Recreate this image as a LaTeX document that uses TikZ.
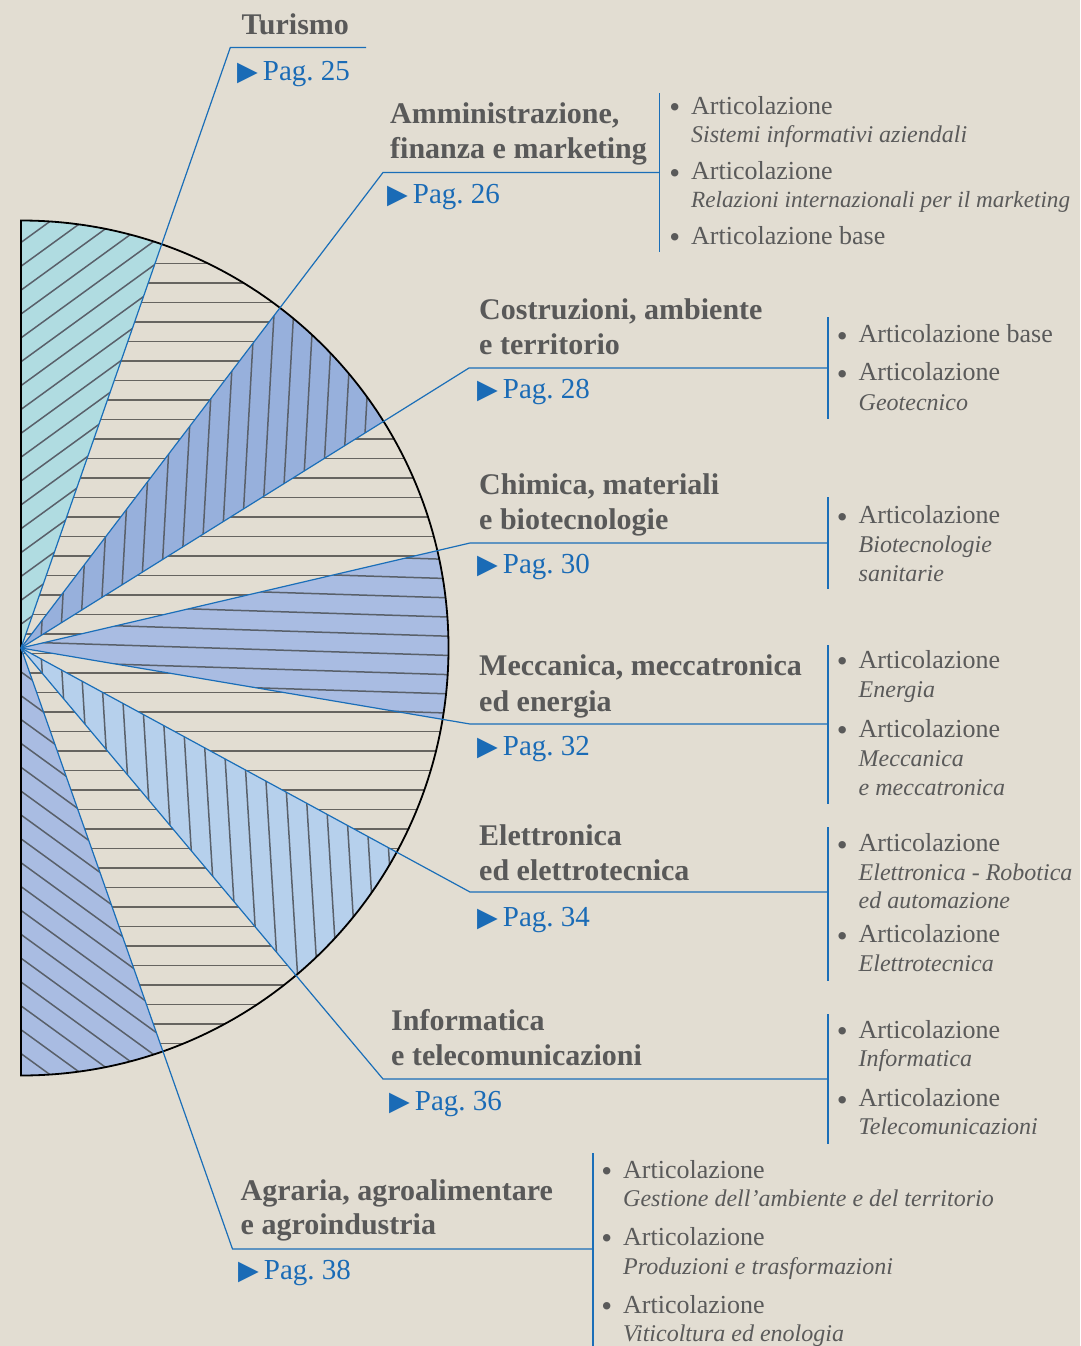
\documentclass[tikz,border=0pt]{standalone}
\usepackage{fontspec}
\setmainfont{Liberation Serif}
\newfontfamily\symfont{DejaVu Sans}
\frenchspacing
\definecolor{bgc}{HTML}{E2DDD2}
\definecolor{cyanF}{HTML}{B0DCE1}
\definecolor{blueA}{HTML}{97B0DC}
\definecolor{blueB}{HTML}{A9BCE2}
\definecolor{blueC}{HTML}{B6D0EC}
\definecolor{colhb}{HTML}{666460}
\definecolor{colhc}{HTML}{59606A}
\definecolor{lineblue}{HTML}{1A6EB8}
\definecolor{headgray}{HTML}{595959}
\definecolor{listgray}{HTML}{5A5A5A}
\definecolor{pagblue}{HTML}{1A6BB6}
\newcommand{\mybul}{\llap{\raisebox{-3.5pt}{\fontsize{31}{31}\selectfont\textbullet}\hspace{11pt}}}
\newcommand{\mytri}{{\symfont\fontsize{27}{27}\selectfont ▶}\hspace{5pt}}
\begin{document}
\begin{tikzpicture}[x=1pt,y=1pt,
  hatchb/.style={draw=colhb, line width=1.5pt},
  hatchc/.style={draw=colhc, line width=1.5pt},
  rim/.style={draw=black, line width=1.8pt},
  conn/.style={draw=lineblue, line width=1.2pt},
  head/.style={anchor=base west, inner sep=0pt, text=headgray, font=\fontsize{30}{34}\selectfont\bfseries},
  pag/.style={anchor=base west, inner sep=0pt, text=pagblue, font=\fontsize{29}{33}\selectfont},
  art/.style={anchor=base west, inner sep=0pt, text=listgray, font=\fontsize{26}{30}\selectfont},
  arti/.style={anchor=base west, inner sep=0pt, text=listgray, font=\fontsize{24}{28}\selectfont\itshape}
]
\useasboundingbox (0,0) rectangle (1080,-1346);
\fill[bgc] (0,0) rectangle (1080,-1346);

\coordinate (C) at (21,-648);

% beige half disc with horizontal hatching
\begin{scope}
  \clip (C) -- ++(90:427.5) arc[start angle=90, end angle=-90, radius=427.5] -- cycle;
  \foreach \k in {-3,...,42} \draw[hatchb] (15,{-263.3-19.5*\k}) -- (460,{-263.3-19.5*\k});
\end{scope}

% Turismo sector
\begin{scope}
  \clip (C) -- ++(90:427.5) arc[start angle=90, end angle=70.78, radius=427.5] -- cycle;
  \fill[cyanF] (C) circle[radius=440];
  \begin{scope}[shift={(C)}, rotate=36]
    \foreach \k in {-25,...,25} \draw[hatchc] (-460,\k*19.3) -- (460,\k*19.3);
  \end{scope}
\end{scope}

% Costruzioni sector
\begin{scope}
  \clip (C) -- ++(52.72:427.5) arc[start angle=52.72, end angle=32.0, radius=427.5] -- cycle;
  \fill[blueA] (C) circle[radius=440];
  \begin{scope}[shift={(C)}, rotate=86.8]
    \foreach \k in {-25,...,25} \draw[hatchc] (-460,\k*19.5) -- (460,\k*19.5);
  \end{scope}
\end{scope}

% Meccanica sector
\begin{scope}
  \clip (C) -- ++(13.16:427.5) arc[start angle=13.16, end angle=-9.61, radius=427.5] -- cycle;
  \fill[blueB] (C) circle[radius=440];
  \begin{scope}[shift={(C)}, rotate=-1.8]
    \foreach \k in {-25,...,25} \draw[hatchc] (-460,\k*19.2+6) -- (460,\k*19.2+6);
  \end{scope}
\end{scope}

% Informatica sector
\begin{scope}
  \clip (C) -- ++(-28.52:427.5) arc[start angle=-28.52, end angle=-49.97, radius=427.5] -- cycle;
  \fill[blueC] (C) circle[radius=440];
  \begin{scope}[shift={(C)}, rotate=93.5]
    \foreach \k in {-25,...,25} \draw[hatchc] (-460,\k*19.7) -- (460,\k*19.7);
  \end{scope}
\end{scope}

% Agraria-bottom sector
\begin{scope}
  \clip (C) -- ++(-70.61:427.5) arc[start angle=-70.61, end angle=-90, radius=427.5] -- cycle;
  \fill[blueB] (C) circle[radius=440];
  \begin{scope}[shift={(C)}, rotate=-36]
    \foreach \k in {-25,...,25} \draw[hatchc] (-460,\k*19.3) -- (460,\k*19.3);
  \end{scope}
\end{scope}

% rim
\draw[rim] (C) ++(90:427.5) arc[start angle=90, end angle=-90, radius=427.5] -- cycle;

% connector coordinates
\coordinate (E1) at (230.3,-47.5);  \coordinate (H1) at (366,-47.5);
\coordinate (E2) at (383,-172.5);   \coordinate (H2) at (659.5,-172.5);
\coordinate (B2t) at (659.5,-93);   \coordinate (B2b) at (659.5,-251.5);
\coordinate (E3) at (469,-368);     \coordinate (H3) at (828,-368);
\coordinate (B3t) at (828,-317);    \coordinate (B3b) at (828,-419);
\coordinate (E4) at (470,-543);     \coordinate (H4) at (828,-543);
\coordinate (B4t) at (828,-497);    \coordinate (B4b) at (828,-589);
\coordinate (E5) at (470,-724);     \coordinate (H5) at (828,-724);
\coordinate (B5t) at (828,-645);    \coordinate (B5b) at (828,-804);
\coordinate (E6) at (470,-892);     \coordinate (H6) at (828,-892);
\coordinate (B6t) at (828,-827);    \coordinate (B6b) at (828,-981);
\coordinate (E7) at (383,-1079);    \coordinate (H7) at (828,-1079);
\coordinate (B7t) at (828,-1014);   \coordinate (B7b) at (828,-1144);
\coordinate (E8) at (232.5,-1249);  \coordinate (H8) at (593,-1249);
\coordinate (B8t) at (593,-1153);   \coordinate (B8b) at (593,-1346);

\draw[conn] (C) -- (E1) -- (H1);
\draw[conn] (C) -- (E2) -- (H2);
\draw[conn] (B2t) -- (B2b);
\draw[conn] (C) -- (E3) -- (H3);
\draw[conn] (B3t) -- (B3b);
\draw[conn] (C) -- (E4) -- (H4);
\draw[conn] (B4t) -- (B4b);
\draw[conn] (C) -- (E5) -- (H5);
\draw[conn] (B5t) -- (B5b);
\draw[conn] (C) -- (E6) -- (H6);
\draw[conn] (B6t) -- (B6b);
\draw[conn] (C) -- (E7) -- (H7);
\draw[conn] (B7t) -- (B7b);
\draw[conn] (C) -- (E8) -- (H8);
\draw[conn] (B8t) -- (B8b);

% Turismo
\node[head] (t1) at (241.5,-34.3) {Turismo};
\node[pag] (p1) at (237,-81) {\mytri Pag. 25};

% Amministrazione
\node[head] (t2a) at (390,-123.8) {Amministrazione,};
\node[head] (t2b) at (390,-158.5) {finanza e marketing};
\node[pag] (p2) at (387,-203.3) {\mytri Pag. 26};
\node[art] (l2a) at (691,-114.3) {\mybul Articolazione};
\node[arti] (l2b) at (691,-142.8) {Sistemi informativi aziendali};
\node[art] (l2c) at (691,-179.5) {\mybul Articolazione};
\node[arti, font=\fontsize{23.2}{28}\selectfont\itshape] (l2d) at (691,-207.5) {Relazioni internazionali per il marketing};
\node[art] (l2e) at (691,-244) {\mybul Articolazione base};

% Costruzioni
\node[head] (t3a) at (479,-319) {Costruzioni, ambiente};
\node[head] (t3b) at (479,-354) {e territorio};
\node[pag] (p3) at (477,-398.3) {\mytri Pag. 28};
\node[art] (l3a) at (858.5,-342.7) {\mybul Articolazione base};
\node[art] (l3b) at (858.5,-380.7) {\mybul Articolazione};
\node[arti] (l3c) at (858.5,-410) {Geotecnico};

% Chimica
\node[head] (t4a) at (479,-494) {Chimica, materiali};
\node[head] (t4b) at (479,-529) {e biotecnologie};
\node[pag] (p4) at (477,-573.3) {\mytri Pag. 30};
\node[art] (l4a) at (858.5,-523.8) {\mybul Articolazione};
\node[arti] (l4b) at (858.5,-552.2) {Biotecnologie};
\node[arti] (l4c) at (858.5,-581.2) {sanitarie};

% Meccanica
\node[head] (t5a) at (479,-675) {Meccanica, meccatronica};
\node[head] (t5b) at (479,-711.4) {ed energia};
\node[pag] (p5) at (477,-755) {\mytri Pag. 32};
\node[art] (l5a) at (858.5,-668.3) {\mybul Articolazione};
\node[arti] (l5b) at (858.5,-697.2) {Energia};
\node[art] (l5c) at (858.5,-737.3) {\mybul Articolazione};
\node[arti] (l5d) at (858.5,-766) {Meccanica};
\node[arti] (l5e) at (858.5,-795) {e meccatronica};

% Elettronica
\node[head] (t6a) at (479,-845) {Elettronica};
\node[head] (t6b) at (479,-880.3) {ed elettrotecnica};
\node[pag] (p6) at (477,-926.7) {\mytri Pag. 34};
\node[art] (l6a) at (858.5,-851.5) {\mybul Articolazione};
\node[arti] (l6b) at (858.5,-880.2) {Elettronica - Robotica};
\node[arti] (l6c) at (858.5,-908.2) {ed automazione};
\node[art] (l6d) at (858.5,-942.5) {\mybul Articolazione};
\node[arti] (l6e) at (858.5,-971.5) {Elettrotecnica};

% Informatica
\node[head] (t7a) at (391,-1030) {Informatica};
\node[head] (t7b) at (391,-1065.5) {e telecomunicazioni};
\node[pag] (p7) at (389,-1110) {\mytri Pag. 36};
\node[art] (l7a) at (858.5,-1038.3) {\mybul Articolazione};
\node[arti] (l7b) at (858.5,-1066.4) {Informatica};
\node[art] (l7c) at (858.5,-1106.7) {\mybul Articolazione};
\node[arti] (l7d) at (858.5,-1134.7) {Telecomunicazioni};

% Agraria
\node[head] (t8a) at (240.5,-1200.3) {Agraria, agroalimentare};
\node[head] (t8b) at (240.5,-1234.8) {e agroindustria};
\node[pag] (p8) at (238,-1279.3) {\mytri Pag. 38};
\node[art] (l8a) at (623,-1178) {\mybul Articolazione};
\node[arti] (l8b) at (623,-1206.8) {Gestione dell’ambiente e del territorio};
\node[art] (l8c) at (623,-1245.3) {\mybul Articolazione};
\node[arti] (l8d) at (623,-1274) {Produzioni e trasformazioni};
\node[art] (l8e) at (623,-1313.3) {\mybul Articolazione};
\node[arti] (l8f) at (623,-1341.5) {Viticoltura ed enologia};
\end{tikzpicture}
\end{document}
